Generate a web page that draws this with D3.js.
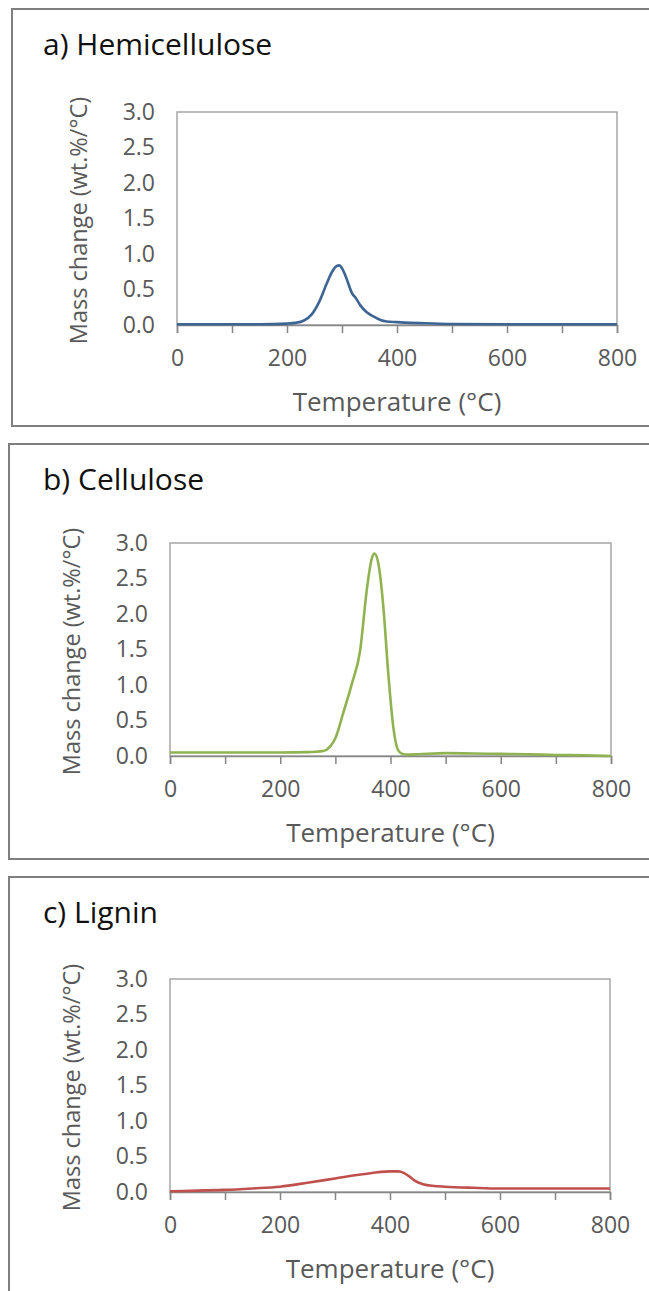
<!DOCTYPE html>
<html>
<head>
<meta charset="utf-8">
<script src="https://cdn.jsdelivr.net/npm/d3@7"></script>
<style>
  body { margin: 0; background: #fff; }
  svg { display: block; font-family: "Open Sans", Lato, sans-serif; }
  .tick text { fill: #595959; font-size: 23px; font-family: "Open Sans", Lato, sans-serif; }
</style>
</head>
<body>
<div id="my_dataviz"></div>
<script>
// panel titles and colours
var titles = ["a) Hemicellulose", "b) Cellulose", "c) Lignin"]
var lineColors = ["#3d6594", "#8fb350", "#c0504d"]

// axis ticks
var xTicks = [0, 100, 200, 300, 400, 500, 600, 700, 800]
var xLabels = [0, 200, 400, 600, 800]
var yTicks = [0, 0.5, 1.0, 1.5, 2.0, 2.5, 3.0]

// a) hemicellulose DTG curve
var hemiT = [0, 50, 100, 150, 200, 215, 230, 245, 260, 272, 282, 290, 295, 300, 308, 318, 325, 333, 345, 357, 370, 381, 400, 425, 450, 500, 600, 700, 800]
var hemiV = [0.01, 0.01, 0.01, 0.01, 0.02, 0.03, 0.06, 0.15, 0.35, 0.58, 0.75, 0.83, 0.84, 0.80, 0.66, 0.45, 0.38, 0.28, 0.18, 0.12, 0.07, 0.05, 0.04, 0.03, 0.025, 0.015, 0.01, 0.01, 0.01]

// b) cellulose DTG curve
var celluT = [0, 100, 200, 250, 278, 290, 300, 314, 330, 345, 357, 366, 371, 378, 387, 396, 405, 414, 422, 430, 450, 500, 550, 600, 650, 700, 750, 800]
var celluV = [0.05, 0.05, 0.05, 0.055, 0.07, 0.13, 0.25, 0.6, 1.02, 1.49, 2.34, 2.78, 2.85, 2.71, 2.1, 1.16, 0.41, 0.08, 0.03, 0.02, 0.025, 0.04, 0.035, 0.03, 0.025, 0.015, 0.01, 0.0]

// c) lignin DTG curve
var ligninT = [0, 50, 100, 150, 200, 250, 300, 350, 400, 415, 425, 435, 445, 460, 480, 500, 550, 600, 700, 800]
var ligninV = [0.01, 0.02, 0.03, 0.05, 0.075, 0.13, 0.19, 0.25, 0.29, 0.29, 0.27, 0.22, 0.16, 0.11, 0.085, 0.075, 0.06, 0.05, 0.05, 0.05]

var series = [[hemiT, hemiV], [celluT, celluV], [ligninT, ligninV]]

// layout of each panel box and its plot area
var panels = [
  { bx: 12, by: 9, bh: 417, left: 177, right: 617, top: 112, bottom: 325 },
  { bx: 9, by: 444, bh: 415, left: 170, right: 611, top: 543, bottom: 756 },
  { bx: 9, by: 877, bh: 430, left: 170, right: 610, top: 979, bottom: 1192 }
]

var svg = d3.select("#my_dataviz")
  .append("svg")
  .attr("width", 649)
  .attr("height", 1291)

panels.forEach(function(p, i) {
  var g = svg.append("g")

  // outer frame
  g.append("rect")
    .attr("x", p.bx).attr("y", p.by)
    .attr("width", 680).attr("height", p.bh)
    .attr("fill", "none")
    .attr("stroke", "#7f7f7f")
    .attr("stroke-width", 2)

  g.append("text")
    .attr("x", 43).attr("y", p.by + 46)
    .attr("font-size", 30)
    .attr("fill", "#111")
    .text(titles[i])

  var x = d3.scaleLinear().domain([0, 800]).range([p.left, p.right])
  var y = d3.scaleLinear().domain([0, 3]).range([p.bottom, p.top])

  // plot area border
  g.append("rect")
    .attr("x", p.left).attr("y", p.top)
    .attr("width", p.right - p.left).attr("height", p.bottom - p.top)
    .attr("fill", "none")
    .attr("stroke", "#a6a6a6")
    .attr("stroke-width", 1.5)

  // Y axis labels (no tick marks)
  var yAxis = g.append("g")
    .attr("transform", "translate(" + p.left + ",0)")
    .call(d3.axisLeft(y).tickValues(yTicks).tickSize(0).tickPadding(22)
      .tickFormat(d3.format(".1f")))
  yAxis.select(".domain").remove()

  // X axis with ticks every 100, labels every 200
  var xAxis = g.append("g")
    .attr("transform", "translate(0," + p.bottom + ")")
    .call(d3.axisBottom(x).tickValues(xTicks).tickSize(8).tickPadding(17)
      .tickFormat(function(d) { return xLabels.indexOf(d) >= 0 ? d : "" }))
  xAxis.select(".domain").attr("stroke", "#868686").attr("stroke-width", 1.5)
  xAxis.selectAll(".tick line").attr("stroke", "#868686").attr("stroke-width", 1.5)

  // axis titles
  g.append("text")
    .attr("text-anchor", "middle")
    .attr("x", (p.left + p.right) / 2)
    .attr("y", p.bottom + 86)
    .attr("font-size", 26)
    .attr("fill", "#595959")
    .text("Temperature (°C)")

  g.append("text")
    .attr("text-anchor", "middle")
    .attr("transform", "translate(" + (p.left - 90) + "," + ((p.top + p.bottom) / 2 + 2) + ")rotate(-90)")
    .attr("font-size", 23.5)
    .attr("fill", "#595959")
    .text("Mass change (wt.%/°C)")

  // the curve
  var pts = series[i][0].map(function(t, k) { return [t, series[i][1][k]] })
  g.append("path")
    .datum(pts)
    .attr("fill", "none")
    .attr("stroke", lineColors[i])
    .attr("stroke-width", 2.6)
    .attr("stroke-linejoin", "round")
    .attr("d", d3.line()
      .curve(d3.curveMonotoneX)
      .x(function(d) { return x(d[0]) })
      .y(function(d) { return y(d[1]) }))
})
</script>
</body>
</html>
